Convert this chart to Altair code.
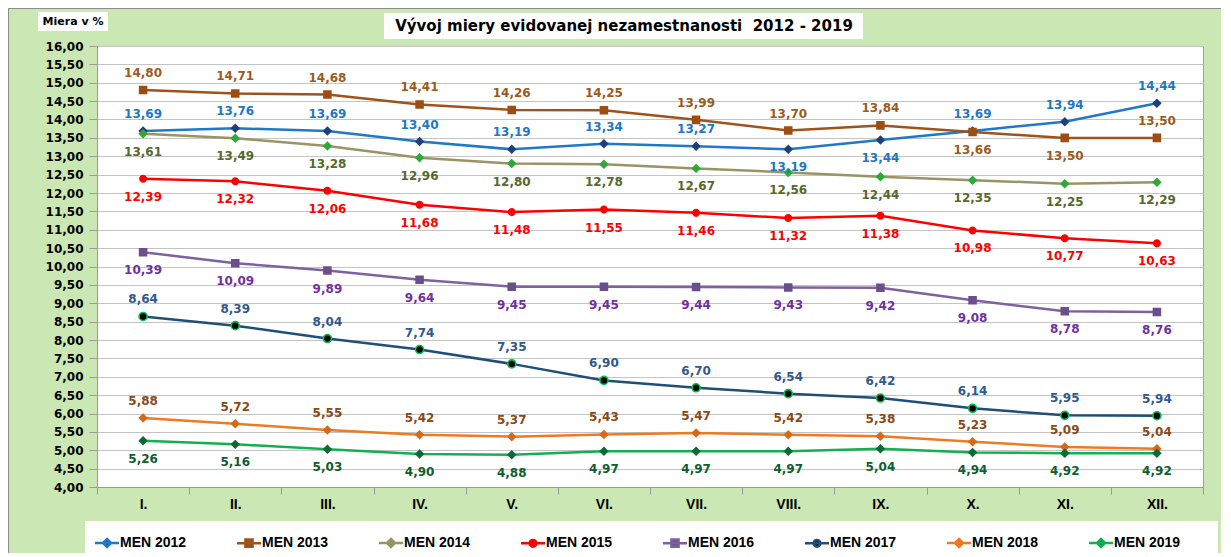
import altair as alt
import pandas as pd

months = ["I.", "II.", "III.", "IV.", "V.", "VI.", "VII.", "VIII.", "IX.", "X.", "XI.", "XII."]
series = ["MEN 2012", "MEN 2013", "MEN 2014", "MEN 2015", "MEN 2016", "MEN 2017", "MEN 2018", "MEN 2019"]

v2012 = [13.69, 13.76, 13.69, 13.40, 13.19, 13.34, 13.27, 13.19, 13.44, 13.69, 13.94, 14.44]
v2013 = [14.80, 14.71, 14.68, 14.41, 14.26, 14.25, 13.99, 13.70, 13.84, 13.66, 13.50, 13.50]
v2014 = [13.61, 13.49, 13.28, 12.96, 12.80, 12.78, 12.67, 12.56, 12.44, 12.35, 12.25, 12.29]
v2015 = [12.39, 12.32, 12.06, 11.68, 11.48, 11.55, 11.46, 11.32, 11.38, 10.98, 10.77, 10.63]
v2016 = [10.39, 10.09, 9.89, 9.64, 9.45, 9.45, 9.44, 9.43, 9.42, 9.08, 8.78, 8.76]
v2017 = [8.64, 8.39, 8.04, 7.74, 7.35, 6.90, 6.70, 6.54, 6.42, 6.14, 5.95, 5.94]
v2018 = [5.88, 5.72, 5.55, 5.42, 5.37, 5.43, 5.47, 5.42, 5.38, 5.23, 5.09, 5.04]
v2019 = [5.26, 5.16, 5.03, 4.90, 4.88, 4.97, 4.97, 4.97, 5.04, 4.94, 4.92, 4.92]
all_values = [v2012, v2013, v2014, v2015, v2016, v2017, v2018, v2019]

y_ticks = [4.0 + 0.5 * i for i in range(25)]

title_text = "Vývoj miery evidovanej nezamestnanosti\u00a0 2012 - 2019"
unit_label = "Miera v %"

# styles
line_colors = ["#1F78C8", "#A0521A", "#9A9464", "#FF0000", "#7E619E", "#1F4E79", "#EE7A22", "#12B04F"]
marker_colors = ["#1F3F7A", "#9C4E12", "#2FA83A", "#FF0000", "#6B4E8C", "#000000", "#D4691C", "#0C6A34"]
label_colors = ["#1E77C4", "#9C5A1E", "#56692C", "#FF0000", "#7030A0", "#30598C", "#8A4A16", "#0E5E30"]
label_side = ["above", "above", "below", "below", "below", "above", "above", "below"]
label_side_exceptions = {("MEN 2012", "VIII."): "below", ("MEN 2012", "IX."): "below",
                         ("MEN 2013", "X."): "below", ("MEN 2013", "XI."): "below"}

LEG_LINE = "M-3,0H3"
DIAMOND = "M0,-1L1,0L0,1L-1,0Z"
SQUARE = "M-0.9,-0.9H0.9V0.9H-0.9Z"
CIRCLE = "M-0.85,0A0.85,0.85,0,1,1,0.85,0A0.85,0.85,0,1,1,-0.85,0Z"
marker_paths = [DIAMOND, SQUARE, DIAMOND, CIRCLE, SQUARE, CIRCLE, DIAMOND, DIAMOND]
shape_range = [LEG_LINE + p for p in marker_paths]

rows = []
for si, s in enumerate(series):
    for mi, m in enumerate(months):
        v = all_values[si][mi]
        rows.append({
            "series": s, "month": m, "value": v,
            "label": f"{v:.2f}".replace(".", ","),
            "lblcolor": label_colors[si],
            "side": label_side_exceptions.get((s, m), label_side[si]),
        })
df = pd.DataFrame(rows)

FONT_NUM = "DejaVu Sans"
FONT_TXT = "Liberation Sans"

x_enc = alt.X("month:N", sort=months,
              scale=alt.Scale(type="band", domain=months, paddingInner=0, paddingOuter=0),
              bandPosition=0.5,
              axis=alt.Axis(title=None, tickBand="extent", labelAngle=0, grid=False,
                            domainColor="#9a9a9a", tickColor="#9a9a9a", tickSize=7,
                            labelPadding=3, labelFont=FONT_TXT, labelFontSize=14,
                            labelFontWeight="bold", labelColor="#000000"))
y_enc = alt.Y("value:Q",
              scale=alt.Scale(domain=[4, 16], nice=False, zero=False),
              axis=alt.Axis(title=None, values=y_ticks,
                            labelExpr="replace(format(datum.value, '.2f'), '.', ',')",
                            grid=True, gridColor="#c4c4c4", gridWidth=1.2,
                            domainColor="#9a9a9a", tickColor="#9a9a9a", tickSize=8,
                            labelPadding=6, labelFont=FONT_NUM, labelFontSize=12,
                            labelFontWeight="bold", labelColor="#000000"))

legend_def = alt.Legend(title=None, orient="none", legendX=3, legendY=490,
                        direction="horizontal", columns=8,
                        labelFont=FONT_TXT, labelFontSize=14, labelFontWeight="bold",
                        labelColor="#000000", symbolSize=64, symbolStrokeWidth=2.5,
                        labelOffset=6, columnPadding=45, padding=0)

one = alt.Data(values=[{"k": 1}])

border = alt.Chart(one).mark_rect(fill="transparent", stroke="#8c8c8c", strokeWidth=1).encode(
    x=alt.value(-88.5), x2=alt.value(1125), y=alt.value(-37.5), y2=alt.value(520))

legend_box = alt.Chart(one).mark_rect(fill="white").encode(
    x=alt.value(-12), x2=alt.value(1121), y=alt.value(475), y2=alt.value(530))

title_box = alt.Chart(one).mark_rect(fill="white").encode(
    x=alt.value(287), x2=alt.value(766), y=alt.value(-33), y2=alt.value(-7))

title_mark = alt.Chart(one).mark_text(font=FONT_NUM, fontSize=15, fontWeight="bold",
                                      align="center", baseline="middle", color="#000000").encode(
    x=alt.value(527), y=alt.value(-20), text=alt.value(title_text))

unit_box = alt.Chart(one).mark_rect(fill="white").encode(
    x=alt.value(-59), x2=alt.value(11), y=alt.value(-34), y2=alt.value(-15))

unit_text = alt.Chart(one).mark_text(font=FONT_NUM, fontSize=11, fontWeight="bold",
                                     align="center", baseline="middle", color="#000000").encode(
    x=alt.value(-24), y=alt.value(-24.5), text=alt.value(unit_label))

base = alt.Chart(df)

lines = base.mark_line(strokeWidth=2.5).encode(
    x=x_enc, y=y_enc,
    stroke=alt.Stroke("series:N", scale=alt.Scale(domain=series, range=line_colors), legend=legend_def),
)

points = base.mark_point(filled=True, opacity=1, size=90).encode(
    x=x_enc, y=y_enc,
    fill=alt.Fill("series:N", scale=alt.Scale(domain=series, range=marker_colors), legend=legend_def),
    shape=alt.Shape("series:N", scale=alt.Scale(domain=series, range=shape_range), legend=legend_def),
)

rings = base.transform_filter(alt.datum.series == "MEN 2017").mark_point(
    shape="circle", filled=False, size=64, strokeWidth=1.6, color="#00C050", opacity=1).encode(
    x=x_enc, y=y_enc)

text_common = dict(font=FONT_NUM, fontSize=12, fontWeight="bold", baseline="middle", align="center")
labels_above = base.transform_filter(alt.datum.side == "above").mark_text(dy=-17, **text_common).encode(
    x=x_enc, y=y_enc, text=alt.Text("label:N"), color=alt.Color("lblcolor:N", scale=None))
labels_below = base.transform_filter(alt.datum.side == "below").mark_text(dy=18, **text_common).encode(
    x=x_enc, y=y_enc, text=alt.Text("label:N"), color=alt.Color("lblcolor:N", scale=None))

chart = alt.layer(
    border, legend_box, title_box, title_mark, unit_box, unit_text,
    lines, points, rings, labels_above, labels_below
).properties(
    width=1106, height=441,
    autosize=alt.AutoSizeParams(type="none"),
    padding={"left": 89, "top": 38, "right": 18, "bottom": 66},
    background="#CBE7B4",
).configure_view(fill="white", stroke="#a0a0a0", strokeWidth=1)

chart.save("out.html", embed_options={"renderer": "svg", "actions": False})
